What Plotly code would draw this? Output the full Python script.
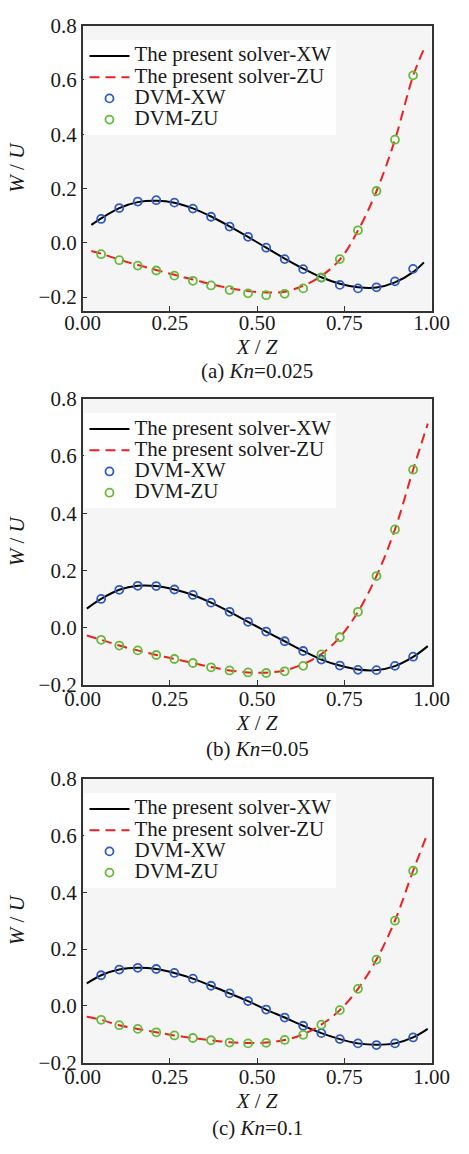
import plotly.graph_objects as go

# ---------------- data ----------------
X_DVM = [0.053, 0.105, 0.158, 0.211, 0.263, 0.316, 0.368, 0.421, 0.474,
         0.526, 0.579, 0.632, 0.684, 0.737, 0.789, 0.842, 0.895, 0.947]

# panel (a) Kn = 0.025
A_LINE_X = [0.025, 0.053, 0.105, 0.158, 0.211, 0.263, 0.316, 0.368, 0.421, 0.474,
            0.526, 0.579, 0.632, 0.684, 0.737, 0.789, 0.842, 0.895, 0.947, 0.978]
A_SOLVER_XW = [0.066, 0.090, 0.128, 0.150, 0.155, 0.148, 0.127, 0.097, 0.061, 0.022,
               -0.018, -0.058, -0.095, -0.127, -0.151, -0.164, -0.165, -0.146, -0.108, -0.072]
A_SOLVER_ZU = [-0.030, -0.040, -0.062, -0.082, -0.100, -0.118, -0.135, -0.152, -0.167, -0.178,
               -0.183, -0.180, -0.158, -0.122, -0.062, 0.045, 0.190, 0.380, 0.615, 0.714]
A_DVM_XW = [0.088, 0.128, 0.152, 0.157, 0.148, 0.126, 0.096, 0.060, 0.022,
            -0.018, -0.060, -0.097, -0.128, -0.155, -0.168, -0.164, -0.142, -0.096]
A_DVM_ZU = [-0.042, -0.064, -0.084, -0.102, -0.121, -0.140, -0.157, -0.174, -0.186,
            -0.193, -0.188, -0.168, -0.128, -0.060, 0.046, 0.191, 0.380, 0.617]

# panel (b) Kn = 0.05
B_LINE_X = [0.012, 0.053, 0.105, 0.158, 0.211, 0.263, 0.316, 0.368, 0.421, 0.474,
            0.526, 0.579, 0.632, 0.684, 0.737, 0.789, 0.842, 0.895, 0.947, 0.989]
B_SOLVER_XW = [0.066, 0.100, 0.132, 0.146, 0.145, 0.133, 0.114, 0.087, 0.055, 0.020,
               -0.014, -0.048, -0.082, -0.112, -0.133, -0.147, -0.149, -0.135, -0.103, -0.065]
B_SOLVER_ZU = [-0.028, -0.043, -0.063, -0.080, -0.096, -0.110, -0.124, -0.138, -0.150, -0.157,
               -0.158, -0.150, -0.128, -0.093, -0.034, 0.055, 0.180, 0.343, 0.552, 0.713]
B_DVM_XW = [0.100, 0.132, 0.146, 0.145, 0.133, 0.114, 0.087, 0.055, 0.020,
            -0.014, -0.048, -0.082, -0.112, -0.133, -0.148, -0.149, -0.134, -0.102]
B_DVM_ZU = [-0.043, -0.063, -0.080, -0.096, -0.110, -0.124, -0.139, -0.150, -0.157,
            -0.159, -0.153, -0.134, -0.094, -0.034, 0.055, 0.180, 0.343, 0.552]

# panel (c) Kn = 0.1
C_LINE_X = [0.012, 0.053, 0.105, 0.158, 0.211, 0.263, 0.316, 0.368, 0.421, 0.474,
            0.526, 0.579, 0.632, 0.684, 0.737, 0.789, 0.842, 0.895, 0.947, 0.989]
C_SOLVER_XW = [0.079, 0.108, 0.128, 0.134, 0.130, 0.116, 0.096, 0.071, 0.044, 0.017,
               -0.013, -0.041, -0.070, -0.096, -0.117, -0.132, -0.137, -0.132, -0.111, -0.081]
C_SOLVER_ZU = [-0.038, -0.049, -0.068, -0.081, -0.093, -0.104, -0.113, -0.121, -0.128, -0.131,
               -0.129, -0.120, -0.100, -0.066, -0.015, 0.060, 0.163, 0.300, 0.476, 0.609]
C_DVM_XW = [0.108, 0.128, 0.134, 0.130, 0.116, 0.096, 0.071, 0.044, 0.017,
            -0.013, -0.041, -0.070, -0.096, -0.117, -0.132, -0.138, -0.132, -0.111]
C_DVM_ZU = [-0.049, -0.068, -0.081, -0.093, -0.104, -0.113, -0.121, -0.129, -0.132,
            -0.130, -0.120, -0.102, -0.066, -0.015, 0.060, 0.163, 0.300, 0.476]

CAPTIONS = ["(a) <i>Kn</i>=0.025", "(b) <i>Kn</i>=0.05", "(c) <i>Kn</i>=0.1"]
Y_TICKS = [-0.2, 0.0, 0.2, 0.4, 0.6, 0.8]
X_TICKS = [0.00, 0.25, 0.50, 0.75, 1.00]
NAMES = ["The present solver-XW", "The present solver-ZU", "DVM-XW", "DVM-ZU"]

# ---------------- layout ----------------
W, H = 469, 1154
FONT = "Liberation Serif"
TXT = "#1a1a1a"
# pixel boxes of each panel: (top, bottom)
BOXES = [(14, 305), (395, 687), (783, 1073)]
CAP_Y = [367, 753, 1140]
Y_RANGES = [[-0.25, 0.8], [-0.2, 0.8], [-0.2, 0.8]]
X_DOMAIN = [70 / W, 448 / W]

panels = [
    (A_LINE_X, A_SOLVER_XW, A_SOLVER_ZU, A_DVM_XW, A_DVM_ZU),
    (B_LINE_X, B_SOLVER_XW, B_SOLVER_ZU, B_DVM_XW, B_DVM_ZU),
    (C_LINE_X, C_SOLVER_XW, C_SOLVER_ZU, C_DVM_XW, C_DVM_ZU),
]

fig = go.Figure()
annotations = []
layout = dict(
    width=W, height=H,
    margin=dict(l=0, r=0, t=0, b=0),
    paper_bgcolor="white",
    plot_bgcolor="#f5f5f5",
    font=dict(family=FONT, size=21, color=TXT),
    showlegend=True,
)

def span(t):
    return '<span style="font-size:21px">' + t + '</span>'

for k, (lx, sxw, szu, dxw, dzu) in enumerate(panels):
    sfx = "" if k == 0 else str(k + 1)
    xa, ya = "x" + sfx, "y" + sfx
    lg = "legend" + sfx
    fig.add_trace(go.Scatter(x=lx, y=sxw, mode="lines", name=span(NAMES[0]),
                             line=dict(color="black", width=2, shape="spline"),
                             xaxis=xa, yaxis=ya, legend=lg))
    fig.add_trace(go.Scatter(x=lx, y=szu, mode="lines", name=span(NAMES[1]),
                             line=dict(color="#ee2020", width=2, dash="10px,6px", shape="spline"),
                             xaxis=xa, yaxis=ya, legend=lg))
    fig.add_trace(go.Scatter(x=X_DVM, y=dxw, mode="markers", name=span(NAMES[2]),
                             marker=dict(symbol="circle-open", size=8, color="#2f5cc0",
                                         line=dict(width=1.8)),
                             xaxis=xa, yaxis=ya, legend=lg))
    fig.add_trace(go.Scatter(x=X_DVM, y=dzu, mode="markers", name=span(NAMES[3]),
                             marker=dict(symbol="circle-open", size=8, color="#66bb3a",
                                         line=dict(width=1.8)),
                             xaxis=xa, yaxis=ya, legend=lg))

    top, bot = BOXES[k]
    dom = [1 - bot / H, 1 - top / H]
    axis_common = dict(showline=True, linecolor="#333333", linewidth=1.5, mirror=True,
                       ticks="inside", ticklen=5, tickwidth=1.2, tickcolor="#333333",
                       showgrid=False, zeroline=False,
                       tickfont=dict(family=FONT, size=21, color=TXT))
    layout["xaxis" + sfx] = dict(axis_common, domain=X_DOMAIN, range=[0, 1],
                                 tickvals=X_TICKS, tickformat=".2f", anchor=ya,
                                 ticklabelstandoff=-8 + (2 if k > 0 else 0),
                                 title=dict(text="<i>X</i> / <i>Z</i>", standoff=1 + (3 if k > 0 else 0),
                                            font=dict(family=FONT, size=21, color=TXT)))
    layout["yaxis" + sfx] = dict(axis_common, domain=dom, range=Y_RANGES[k],
                                 tickvals=Y_TICKS, tickformat=".1f", anchor=xa,
                                 title=dict(text="<i>W</i> / <i>U</i>", standoff=8,
                                            font=dict(family=FONT, size=21, color=TXT)))
    layout[lg] = dict(x=72 / W, y=1 - (top + 15) / H, xanchor="left", yanchor="top",
                      bgcolor="rgba(255,255,255,0.9)", borderwidth=0,
                      font=dict(family=FONT, size=14, color=TXT),
                      itemwidth=40, tracegroupgap=0)
    annotations.append(dict(text=CAPTIONS[k], x=259 / W, y=1 - CAP_Y[k] / H,
                            xref="paper", yref="paper", showarrow=False,
                            xanchor="center", yanchor="middle",
                            font=dict(family=FONT, size=21, color=TXT)))

layout["annotations"] = annotations
fig.update_layout(**layout)
fig.write_html("out.html")
